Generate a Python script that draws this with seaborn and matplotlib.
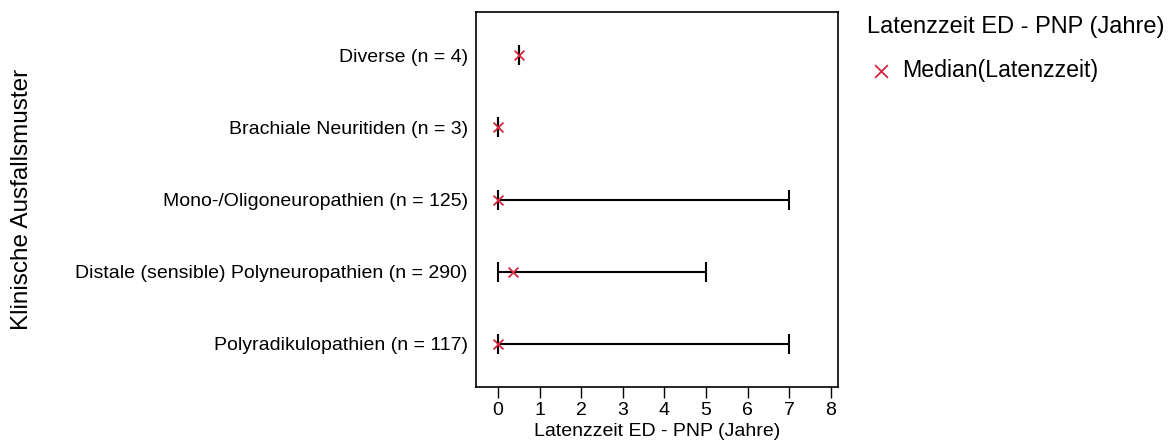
import matplotlib
matplotlib.use("Agg")
import matplotlib.pyplot as plt
import seaborn as sns
import pandas as pd
import numpy as np

categories = [
    "Diverse (n = 4)",
    "Brachiale Neuritiden (n = 3)",
    "Mono-/Oligoneuropathien (n = 125)",
    "Distale (sensible) Polyneuropathien (n = 290)",
    "Polyradikulopathien (n = 117)",
]
median_vals = [0.5, 0.0, 0.0, 0.35, 0.0]
min_vals = [0.5, 0.0, 0.0, 0.0, 0.0]
max_vals = [0.5, 0.0, 7.0, 5.0, 7.0]
x_ticks = [0, 1, 2, 3, 4, 5, 6, 7, 8]

sns.set_theme(style="white")
plt.rcParams['font.family'] = ['Liberation Sans', 'DejaVu Sans']
plt.rcParams['text.color'] = 'black'
plt.rcParams['axes.labelcolor'] = 'black'
plt.rcParams['xtick.color'] = 'black'
plt.rcParams['ytick.color'] = 'black'

df = pd.DataFrame({"cat": categories, "median": median_vals,
                   "lo": min_vals, "hi": max_vals})
df["pos"] = np.arange(len(df))

fig = plt.figure(figsize=(11.72, 4.48), dpi=100)
ax = fig.add_axes([476/1172, 1-387/448, (838-476)/1172, (387-12)/448])

for _, r in df.iterrows():
    half = (r["hi"] - r["lo"]) / 2
    ax.errorbar(x=[(r["lo"] + r["hi"]) / 2], y=[r["pos"]],
                xerr=[[half], [half]],
                fmt="none", ecolor="black", elinewidth=1.5, capsize=7,
                capthick=1.5, zorder=2)

sns.scatterplot(data=df, x="median", y="pos", marker="x", color="#d6273f",
                s=50, linewidth=1.3, ax=ax, zorder=3,
                label="Median(Latenzzeit)")

ax.set_ylim(4.6, -0.6)
ax.set_xlim(-0.53, 8.17)
ax.set_yticks(df["pos"])
ax.set_yticklabels(categories, fontsize=14)
ax.set_xticks(x_ticks)
ax.set_xticklabels([str(t) for t in x_ticks], fontsize=14)
ax.tick_params(axis="x", direction="out", length=8, width=1, color="black", bottom=True, pad=3)
ax.tick_params(axis="y", length=0, pad=6)
ax.set_xlabel("Latenzzeit ED - PNP (Jahre)", fontsize=14, labelpad=3)
ax.set_ylabel("")
fig.text(22/1172, 1 - 199/448, "Klinische Ausfallsmuster", rotation=90,
         ha="center", va="center", fontsize=17.5)
for s in ax.spines.values():
    s.set_color("black")
    s.set_linewidth(1.2)

leg = ax.legend(loc="upper left", bbox_to_anchor=(1.055, 1.013), frameon=False,
                title="Latenzzeit ED - PNP (Jahre)", fontsize=16.7, title_fontsize=17,
                handletextpad=0.3, handlelength=1.2, borderaxespad=0,
                labelspacing=0.8, markerscale=1.3)
leg._legend_box.align = "left"
leg._legend_box.sep = 15

fig.savefig("out.png", dpi=100)
